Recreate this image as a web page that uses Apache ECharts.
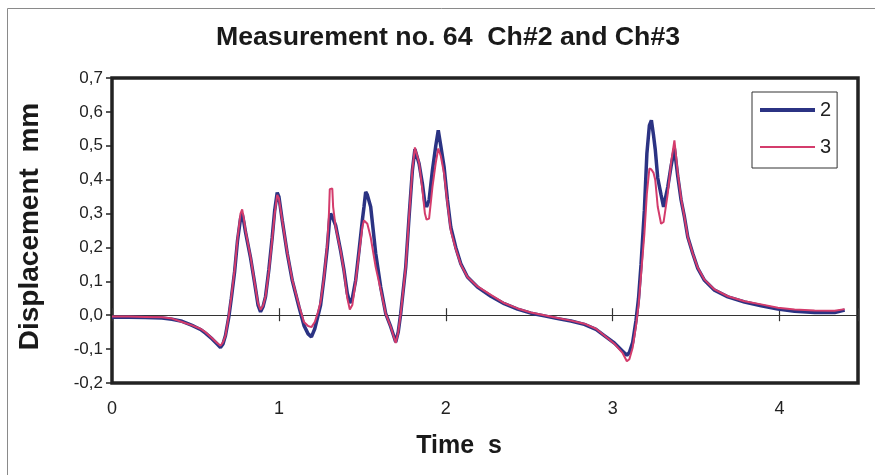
<!DOCTYPE html>
<html>
<head>
<meta charset="utf-8">
<script src="https://cdn.jsdelivr.net/npm/echarts@6/dist/echarts.min.js"></script>
<style>html,body{margin:0;padding:0;background:#fff;}#c{width:875px;height:475px;}</style>
</head>
<body>
<div id="c"></div>
<script>
// Time axis (s)
var time = [0.00,0.10,0.20,0.30,0.36,0.42,0.48,0.53,0.56,0.60,0.63,0.65,0.665,0.68,0.70,0.715,0.735,0.752,0.77,0.78,0.79,0.80,0.83,0.855,0.875,0.89,0.905,0.92,0.94,0.96,0.975,0.99,1.00,1.02,1.05,1.08,1.12,1.15,1.175,1.195,1.215,1.235,1.25,1.27,1.29,1.30,1.305,1.31,1.32,1.325,1.34,1.37,1.39,1.41,1.425,1.44,1.46,1.48,1.50,1.51,1.52,1.53,1.55,1.58,1.61,1.64,1.67,1.70,1.715,1.73,1.76,1.78,1.80,1.815,1.84,1.86,1.875,1.885,1.90,1.92,1.94,1.955,1.97,1.99,2.01,2.03,2.06,2.09,2.13,2.19,2.27,2.35,2.43,2.51,2.59,2.67,2.75,2.83,2.90,2.95,3.01,3.06,3.085,3.10,3.12,3.14,3.155,3.17,3.19,3.205,3.22,3.232,3.245,3.255,3.27,3.29,3.305,3.33,3.35,3.37,3.39,3.41,3.43,3.45,3.48,3.51,3.55,3.61,3.69,3.79,3.89,3.99,4.09,4.21,4.33,4.39];
// Channel 2 displacement (mm)
var ch2 = [-0.006,-0.006,-0.007,-0.008,-0.012,-0.018,-0.030,-0.042,-0.053,-0.070,-0.085,-0.095,-0.085,-0.060,-0.005,0.050,0.130,0.220,0.285,0.300,0.275,0.245,0.170,0.094,0.030,0.010,0.025,0.055,0.135,0.230,0.310,0.362,0.350,0.280,0.183,0.103,0.025,-0.030,-0.055,-0.064,-0.040,0.000,0.030,0.110,0.200,0.260,0.290,0.300,0.290,0.285,0.265,0.190,0.133,0.064,0.036,0.050,0.103,0.190,0.280,0.320,0.364,0.355,0.320,0.183,0.083,0.005,-0.034,-0.079,-0.050,0.005,0.142,0.290,0.428,0.490,0.447,0.388,0.330,0.320,0.340,0.428,0.500,0.546,0.500,0.437,0.340,0.260,0.200,0.152,0.113,0.083,0.056,0.034,0.018,0.006,-0.002,-0.010,-0.017,-0.027,-0.042,-0.060,-0.082,-0.106,-0.118,-0.110,-0.080,-0.015,0.050,0.150,0.310,0.477,0.560,0.575,0.530,0.490,0.405,0.355,0.320,0.378,0.440,0.492,0.410,0.340,0.290,0.231,0.182,0.138,0.103,0.074,0.054,0.039,0.028,0.018,0.012,0.008,0.008,0.015];
// Channel 3 displacement (mm)
var ch3 = [-0.004,-0.004,-0.005,-0.006,-0.010,-0.020,-0.030,-0.040,-0.050,-0.068,-0.082,-0.090,-0.080,-0.060,0.000,0.055,0.135,0.225,0.300,0.312,0.285,0.250,0.172,0.095,0.035,0.016,0.028,0.055,0.130,0.225,0.300,0.355,0.345,0.280,0.185,0.105,0.030,-0.020,-0.032,-0.035,-0.020,0.010,0.040,0.110,0.210,0.300,0.372,0.375,0.374,0.320,0.260,0.190,0.130,0.050,0.017,0.030,0.100,0.180,0.260,0.280,0.285,0.270,0.230,0.142,0.075,0.005,-0.034,-0.082,-0.050,0.005,0.142,0.290,0.430,0.495,0.450,0.370,0.300,0.282,0.285,0.378,0.450,0.492,0.470,0.418,0.330,0.250,0.195,0.150,0.113,0.085,0.060,0.036,0.020,0.008,0.000,-0.008,-0.016,-0.025,-0.040,-0.060,-0.084,-0.112,-0.136,-0.130,-0.095,-0.030,0.030,0.120,0.240,0.359,0.433,0.430,0.420,0.400,0.320,0.270,0.275,0.359,0.450,0.516,0.420,0.345,0.290,0.231,0.182,0.140,0.105,0.076,0.056,0.041,0.032,0.022,0.017,0.014,0.013,0.018];
var xTicks = [0,1,2,3,4];
var yTickLabels = ['-0,2','-0,1','0,0','0,1','0,2','0,3','0,4','0,5','0,6','0,7'];

function pairs(xs, ys){ return xs.map(function(x,i){ return [x, ys[i]]; }); }
var sans = '"Liberation Sans", Arial, sans-serif';
var chart = echarts.init(document.getElementById('c'), null, {renderer:'canvas'});
var xBase = {type:'value', min:0, max:4.47, interval:1, splitLine:{show:false}};
var yBase = {type:'value', min:-0.2, max:0.7, interval:0.1, splitLine:{show:false}};
chart.setOption({
  animation:false,
  backgroundColor:'#ffffff',
  title:{text:'Measurement no. 64  Ch#2 and Ch#3', left:443, top:19, textAlign:'center',
    textStyle:{fontFamily:sans, fontWeight:'bold', fontSize:26.7, color:'#1a1a1a'}},
  graphic:[{type:'rect', shape:{x:7.5,y:8.5,width:900,height:500}, style:{fill:'none', stroke:'#8a8a8a', lineWidth:1}, silent:true}],
  legend:{orient:'vertical', left:752, top:92, padding:[8,6,11,8], itemGap:17, itemWidth:55, itemHeight:14,
    backgroundColor:'#fff', borderColor:'#333', borderWidth:1,
    textStyle:{fontFamily:sans, fontSize:20, color:'#222'},
    data:[{name:'2', icon:'path://M0,5L55,5L55,9L0,9Z'},{name:'3', icon:'path://M0,6L55,6L55,8L0,8Z'}]},
  grid:{left:112, right:17, top:78, bottom:92, show:true, borderColor:'#222', borderWidth:3.5, backgroundColor:'#fff'},
  xAxis:[
    Object.assign({}, xBase, {position:'bottom', name:'Time  s', nameLocation:'middle', nameGap:51,
      nameTextStyle:{fontFamily:sans, fontWeight:'bold', fontSize:25, color:'#1a1a1a', padding:[0,52,0,0]},
      axisLine:{show:false, onZero:false}, axisTick:{show:false},
      axisLabel:{margin:17, fontFamily:sans, fontSize:18, color:'#222', showMaxLabel:false,
        formatter:function(v){ return xTicks.indexOf(v) >= 0 ? String(v) : ''; }}}),
    Object.assign({}, xBase, {position:'bottom', axisLine:{show:true, onZero:true, onZeroAxisIndex:0, lineStyle:{color:'#333', width:1}},
      axisTick:{show:true, inside:false, length:6, lineStyle:{color:'#333', width:1.2}}, axisLabel:{show:false}}),
    Object.assign({}, xBase, {position:'top', axisLine:{show:false, onZero:true, onZeroAxisIndex:1},
      axisTick:{show:true, inside:false, length:7, lineStyle:{color:'#333', width:1.2}}, axisLabel:{show:false}})
  ],
  yAxis:[
    Object.assign({}, yBase, {position:'left',
      name:'Displacement  mm', nameLocation:'middle', nameGap:68, nameRotate:90,
      nameTextStyle:{fontFamily:sans, fontWeight:'bold', fontSize:28, color:'#1a1a1a', padding:[0,0,0,8]},
      axisLine:{show:false}, axisTick:{show:true, inside:false, length:6, lineStyle:{color:'#222', width:1.5}},
      axisLabel:{margin:9, fontFamily:sans, fontSize:17, color:'#222',
        formatter:function(v){ var i = Math.round((v + 0.2) * 10); return yTickLabels[i] || ''; }}}),
    Object.assign({}, yBase, {position:'left', axisLine:{show:false}, axisTick:{show:false}, axisLabel:{show:false}})
  ],
  series:[
    {name:'2', type:'line', xAxisIndex:0, yAxisIndex:0, data:pairs(time, ch2), symbol:'none', smooth:false,
      lineStyle:{color:'#2b3383', width:3.5}, itemStyle:{color:'#2b3383'}, z:2},
    {name:'3', type:'line', xAxisIndex:0, yAxisIndex:0, data:pairs(time, ch3), symbol:'none', smooth:false,
      lineStyle:{color:'#d43c6c', width:2}, itemStyle:{color:'#d43c6c'}, z:3}
  ]
});
</script>
</body>
</html>
